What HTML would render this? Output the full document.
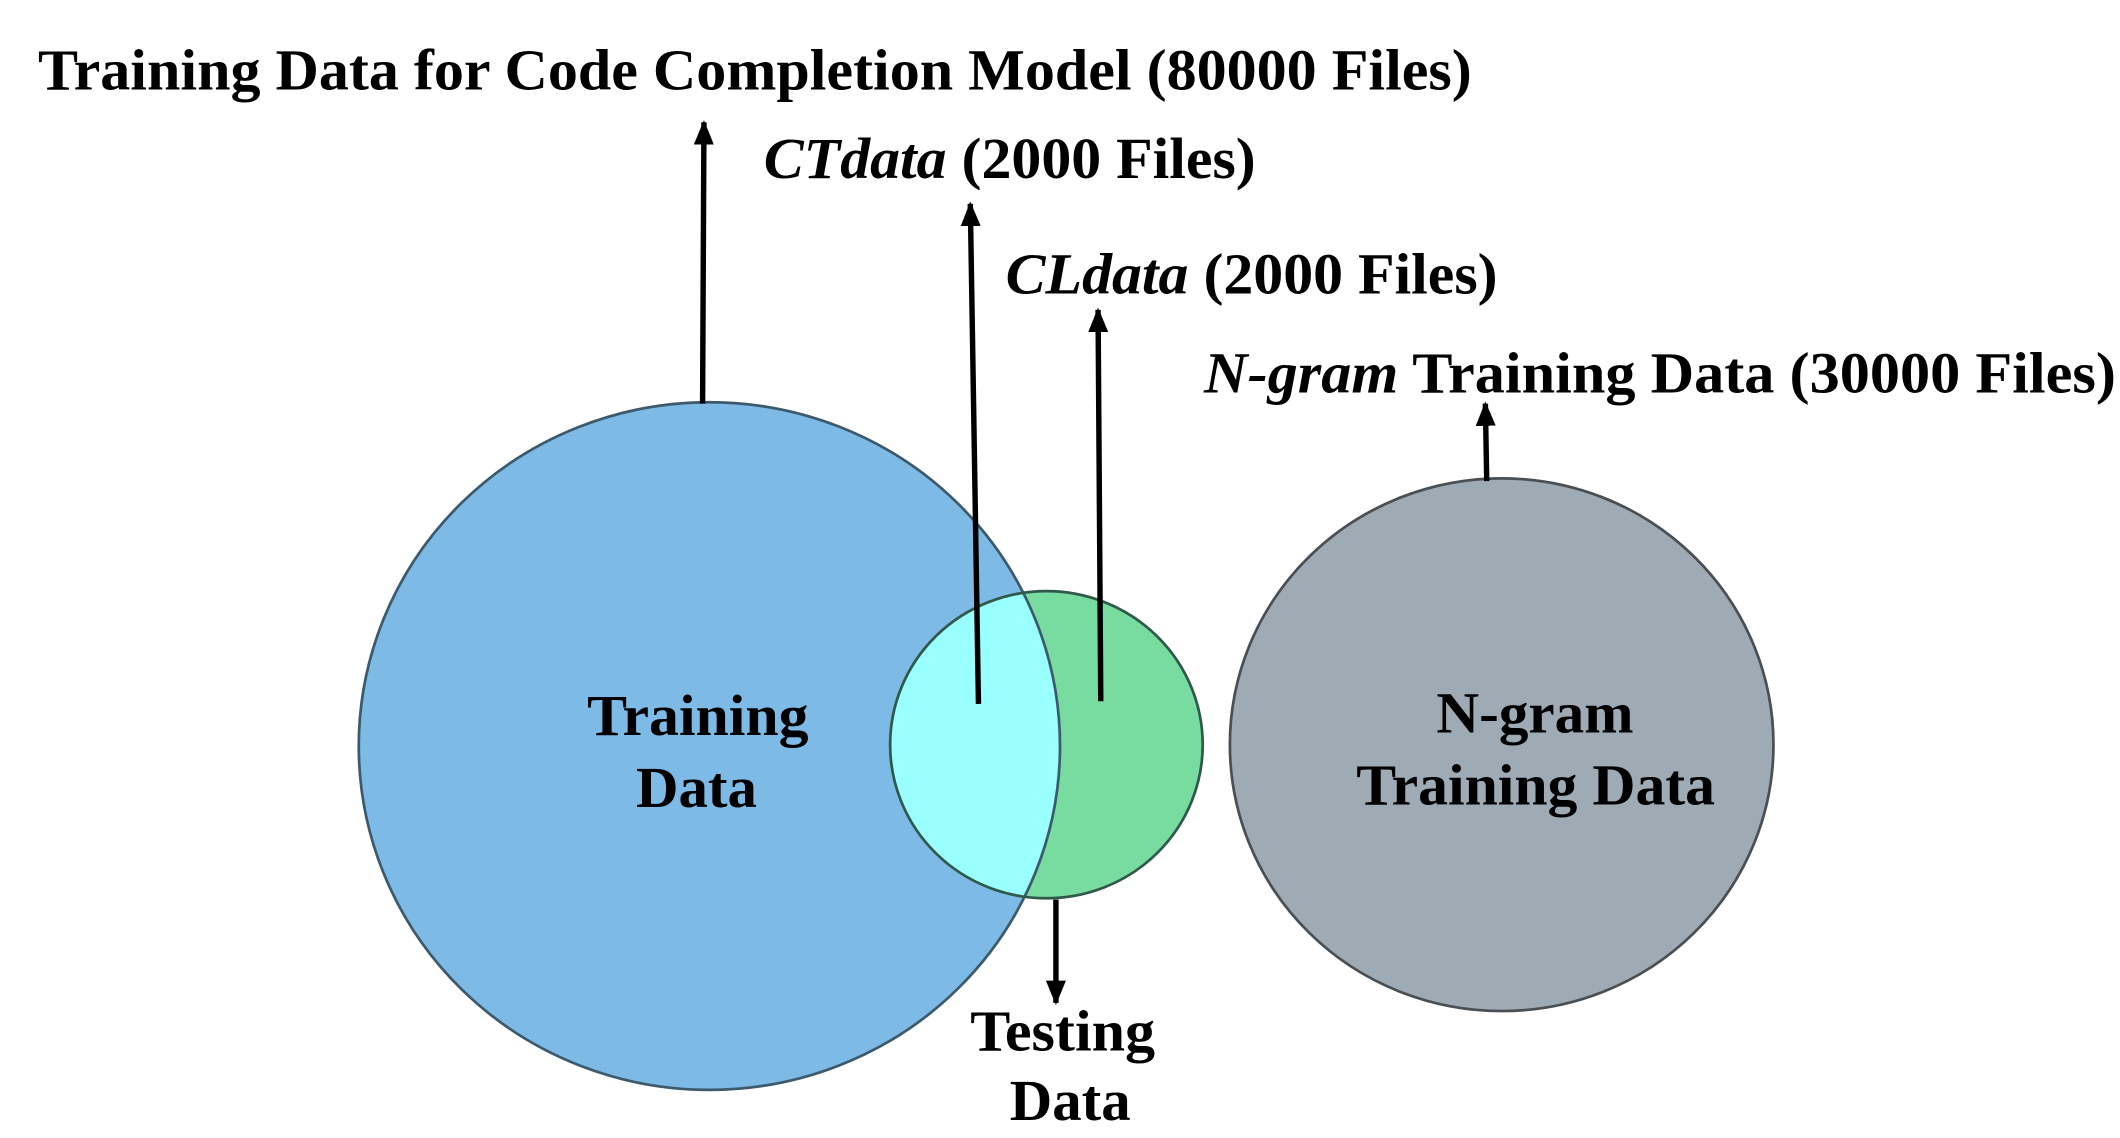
<!DOCTYPE html>
<html><head><meta charset="utf-8"><style>
html,body{margin:0;padding:0;background:#fff;width:2120px;height:1138px;overflow:hidden}
svg{display:block}
text{font-family:"Liberation Serif",serif;font-weight:bold;fill:#000}
</style></head><body>
<svg width="2120" height="1138" viewBox="0 0 1560 837.4" preserveAspectRatio="none" xmlns="http://www.w3.org/2000/svg">
<defs>
<marker id="ah" markerWidth="18" markerHeight="22" refX="20" refY="9" orient="auto" markerUnits="userSpaceOnUse" viewBox="0 0 22 18">
<path d="M0,0 L22,9 L0,18 z" fill="#000"/></marker>
<clipPath id="cb"><ellipse cx="522" cy="549" rx="258" ry="253"/></clipPath>
</defs>
<ellipse cx="522" cy="549" rx="258" ry="253" fill="#7dbae6"/>
<ellipse cx="770" cy="548" rx="115" ry="113" fill="#78dba0"/>
<ellipse cx="770" cy="548" rx="115" ry="113" fill="#99ffff" clip-path="url(#cb)"/>
<ellipse cx="522" cy="549" rx="258" ry="253" fill="none" stroke="#3d5a6c" stroke-width="2"/>
<ellipse cx="770" cy="548" rx="115" ry="113" fill="none" stroke="#2f5a4a" stroke-width="2"/>
<ellipse cx="1105" cy="548" rx="200" ry="196" fill="#9eaab4" stroke="#4a4f54" stroke-width="2"/>
<g stroke="#000" stroke-width="4" fill="none">
<line x1="517" y1="297" x2="518" y2="90" marker-end="url(#ah)"/>
<line x1="720" y1="518" x2="714" y2="150" marker-end="url(#ah)"/>
<line x1="810" y1="516" x2="808" y2="228" marker-end="url(#ah)"/>
<line x1="1094" y1="354" x2="1093" y2="297" marker-end="url(#ah)"/>
<line x1="777" y1="662" x2="777" y2="738" marker-end="url(#ah)"/>
</g>
<g font-size="43">
<text x="28" y="66" textLength="1055" lengthAdjust="spacingAndGlyphs">Training Data for Code Completion Model (80000 Files)</text>
<text x="562" y="131" textLength="362" lengthAdjust="spacingAndGlyphs"><tspan font-style="italic">CTdata</tspan> (2000 Files)</text>
<text x="740" y="216" textLength="362" lengthAdjust="spacingAndGlyphs"><tspan font-style="italic">CLdata</tspan> (2000 Files)</text>
<text x="886" y="289" textLength="671" lengthAdjust="spacingAndGlyphs"><tspan font-style="italic">N-gram</tspan> Training Data (30000 Files)</text>
<text x="432" y="541" textLength="163" lengthAdjust="spacingAndGlyphs">Training</text>
<text x="468" y="594" textLength="89" lengthAdjust="spacingAndGlyphs">Data</text>
<text x="1057" y="539" textLength="145" lengthAdjust="spacingAndGlyphs">N-gram</text>
<text x="998" y="592" textLength="264" lengthAdjust="spacingAndGlyphs">Training Data</text>
<text x="714" y="773" textLength="136" lengthAdjust="spacingAndGlyphs">Testing</text>
<text x="743" y="824" textLength="89" lengthAdjust="spacingAndGlyphs">Data</text>
</g>
</svg>
</body></html>
